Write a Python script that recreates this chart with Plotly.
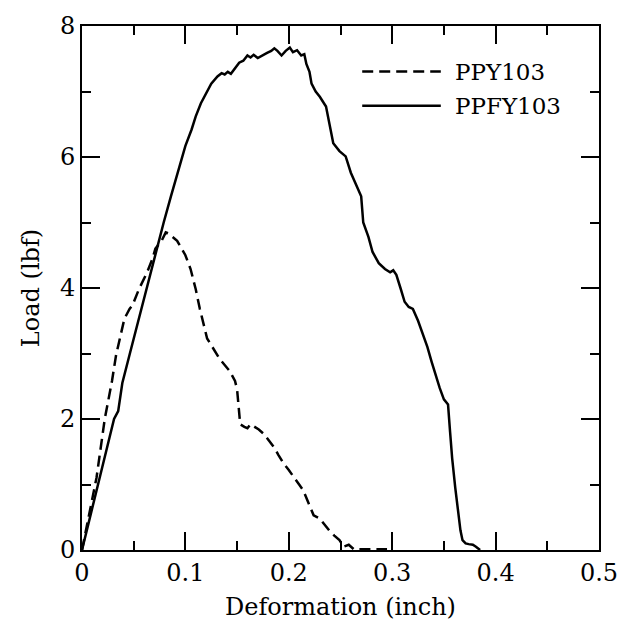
import plotly.graph_objects as go

# PPFY103 (solid)
ppfy_x = [0.0, 0.010, 0.020, 0.031, 0.035, 0.039, 0.046, 0.054, 0.062, 0.068, 0.074, 0.079,
          0.086, 0.093, 0.100, 0.106, 0.110, 0.115, 0.120, 0.125, 0.131, 0.135, 0.138, 0.141, 0.144,
          0.148, 0.152, 0.156, 0.160, 0.163, 0.166, 0.170, 0.174, 0.179, 0.183, 0.186, 0.189,
          0.193, 0.197, 0.201, 0.204, 0.208, 0.212, 0.215, 0.217, 0.220, 0.222, 0.226, 0.230,
          0.236, 0.240, 0.243, 0.249, 0.255, 0.260, 0.264, 0.270, 0.272, 0.277, 0.281, 0.287,
          0.293, 0.298, 0.301, 0.304, 0.308, 0.312, 0.316, 0.320, 0.325, 0.329, 0.334, 0.338,
          0.342, 0.346, 0.350, 0.354, 0.356, 0.358, 0.361, 0.364, 0.366, 0.368, 0.371, 0.374,
          0.378, 0.381, 0.385]
ppfy_y = [0.0, 0.65, 1.32, 2.0, 2.12, 2.55, 2.98, 3.48, 3.98, 4.35, 4.70, 5.0,
          5.40, 5.78, 6.17, 6.42, 6.62, 6.82, 6.97, 7.12, 7.23, 7.28, 7.26, 7.30, 7.27,
          7.36, 7.44, 7.47, 7.55, 7.52, 7.56, 7.51, 7.55, 7.59, 7.62, 7.66, 7.62,
          7.55, 7.62, 7.67, 7.60, 7.63, 7.55, 7.57, 7.42, 7.30, 7.12, 7.00, 6.92,
          6.77, 6.45, 6.21, 6.09, 6.01, 5.76, 5.62, 5.40, 5.0, 4.78, 4.55, 4.38,
          4.29, 4.24, 4.27, 4.20, 4.00, 3.79, 3.71, 3.68, 3.50, 3.33, 3.10, 2.88,
          2.66, 2.47, 2.30, 2.22, 1.80, 1.40, 0.95, 0.55, 0.30, 0.15, 0.10, 0.09,
          0.08, 0.05, 0.0]

# PPY103 (dashed)
ppy_x = [0.0, 0.0095, 0.014, 0.022, 0.029, 0.033, 0.041, 0.046, 0.049, 0.055, 0.063, 0.068,
         0.071, 0.077, 0.081, 0.084, 0.088, 0.092, 0.100, 0.105, 0.110, 0.114, 0.121, 0.127,
         0.133, 0.143, 0.148, 0.150, 0.153, 0.157, 0.160, 0.163, 0.167, 0.171, 0.176, 0.181,
         0.186, 0.190, 0.195, 0.200, 0.205, 0.210, 0.214, 0.219, 0.224, 0.230, 0.235, 0.239,
         0.244, 0.249, 0.253, 0.258, 0.263, 0.270, 0.280, 0.295]
ppy_y = [0.0, 0.71, 1.10, 2.0, 2.58, 2.98, 3.53, 3.68, 3.74, 3.98, 4.24, 4.44,
         4.60, 4.72, 4.85, 4.83, 4.78, 4.72, 4.50, 4.29, 3.98, 3.68, 3.23, 3.08,
         2.92, 2.73, 2.58, 2.45, 1.92, 1.88, 1.86, 1.92, 1.88, 1.84, 1.77, 1.66,
         1.56, 1.45, 1.32, 1.22, 1.10, 1.00, 0.91, 0.72, 0.53, 0.48, 0.38, 0.30,
         0.22, 0.15, 0.05, 0.08, 0.01, 0.01, 0.01, 0.01]

series_names = ["PPY103", "PPFY103"]
x_ticks = [0, 0.1, 0.2, 0.3, 0.4, 0.5]
x_tick_labels = ["0", "0.1", "0.2", "0.3", "0.4", "0.5"]
y_ticks = [0, 2, 4, 6, 8]
y_tick_labels = ["0", "2", "4", "6", "8"]

FONT = "DejaVu Serif"

fig = go.Figure()
fig.add_trace(go.Scatter(x=ppy_x, y=ppy_y, mode="lines", name=series_names[0],
                         line=dict(color="black", width=2.5, dash="11px,6px"), showlegend=False))
fig.add_trace(go.Scatter(x=ppfy_x, y=ppfy_y, mode="lines", name=series_names[1],
                         line=dict(color="black", width=2.5), showlegend=False))

# legend drawn manually to match long line samples
legend_y = [0.913, 0.848]
dashes = ["11px,6px", "solid"]
for name, ly, d in zip(series_names, legend_y, dashes):
    fig.add_shape(type="line", xref="paper", yref="paper", x0=0.542, x1=0.694, y0=ly, y1=ly,
                  line=dict(color="black", width=2.5, dash=d))
    fig.add_annotation(xref="paper", yref="paper", x=0.718, y=ly, text=name, showarrow=False,
                       xanchor="left", yanchor="middle", font=dict(family=FONT, size=23, color="black"))

axis_common = dict(showgrid=False, zeroline=False, showline=True, linecolor="black", linewidth=2,
                   mirror="allticks", ticks="inside", ticklen=18, tickwidth=2, tickcolor="black",
                   tickfont=dict(family=FONT, size=24, color="black"))

fig.update_xaxes(range=[0, 0.5], tickvals=x_ticks, ticktext=x_tick_labels,
                 minor=dict(ticks="inside", ticklen=9, tickwidth=2, tickcolor="black", dtick=0.05),
                 title=dict(text="Deformation (inch)", font=dict(family=FONT, size=24, color="black"), standoff=12),
                 **axis_common)
fig.update_yaxes(range=[0, 8], tickvals=y_ticks, ticktext=y_tick_labels,
                 minor=dict(ticks="inside", ticklen=9, tickwidth=2, tickcolor="black", dtick=1),
                 title=dict(text="Load (lbf)", font=dict(family=FONT, size=24, color="black"), standoff=14),
                 **axis_common)

fig.update_layout(width=630, height=632, margin=dict(l=82, r=23, t=22, b=82),
                  plot_bgcolor="white", paper_bgcolor="white",
                  font=dict(family=FONT, color="black"))

fig.write_html("out.html")
